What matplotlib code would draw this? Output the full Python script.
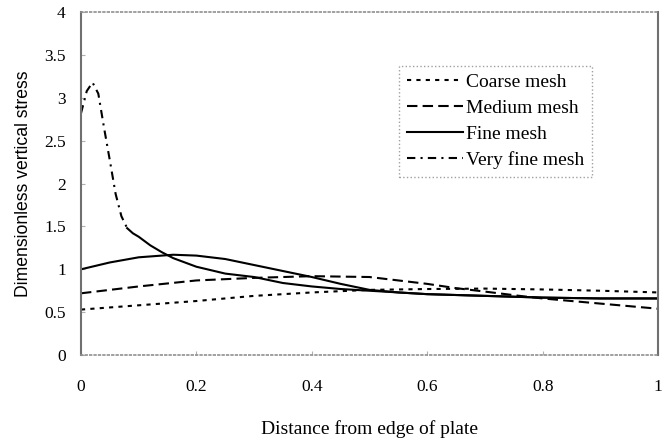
import matplotlib
matplotlib.use("Agg")
import matplotlib.pyplot as plt

# values
coarse_x = [0, 0.1, 0.2, 0.3, 0.4, 0.5, 0.6, 0.7, 0.8, 0.9, 1.0]
coarse_y = [0.53, 0.58, 0.63, 0.69, 0.73, 0.76, 0.77, 0.775, 0.765, 0.75, 0.73]

medium_x = [0, 0.1, 0.2, 0.3, 0.4, 0.5, 0.6, 0.65, 0.7, 0.76, 0.8, 0.9, 1.0]
medium_y = [0.72, 0.80, 0.87, 0.90, 0.92, 0.91, 0.83, 0.78, 0.74, 0.69, 0.66, 0.60, 0.54]

fine_x = [0, 0.05, 0.1, 0.16, 0.2, 0.25, 0.3, 0.35, 0.4, 0.45, 0.5, 0.55, 0.6, 0.7, 0.8, 0.9, 1.0]
fine_y = [1.0, 1.08, 1.14, 1.17, 1.16, 1.12, 1.05, 0.98, 0.91, 0.83, 0.76, 0.73, 0.71, 0.69, 0.67, 0.66, 0.66]

vfine_x = [0, 0.01, 0.02, 0.03, 0.04, 0.05, 0.06, 0.07, 0.08, 0.09, 0.1, 0.12, 0.14, 0.16,
           0.2, 0.25, 0.3, 0.35, 0.4, 0.45, 0.5, 0.6, 0.7, 0.8, 0.9, 1.0]
vfine_y = [2.82, 3.08, 3.18, 3.05, 2.65, 2.27, 1.88, 1.62, 1.48, 1.42, 1.38, 1.28, 1.20, 1.13,
           1.03, 0.95, 0.91, 0.84, 0.80, 0.77, 0.75, 0.71, 0.69, 0.67, 0.66, 0.66]

serif = "Liberation Serif"
fig = plt.figure(figsize=(6.71, 4.41), dpi=100)
ax = fig.add_axes([0.1207, 0.195, 0.86, 0.7773])

k = "black"
lw = 1.5
ax.plot(coarse_x, coarse_y, color=k, lw=lw, linestyle=(0, (2, 2.5)), label="Coarse mesh")
ax.plot(medium_x, medium_y, color=k, lw=lw, linestyle=(0, (5, 2.5)), label="Medium mesh")
ax.plot(fine_x, fine_y, color=k, lw=lw, linestyle="-", label="Fine mesh")
# the spike is drawn dash-dot, the dense tail looks solid in the original
n = 9
ax.plot(vfine_x[:n], vfine_y[:n], color=k, lw=lw, linestyle=(0, (4, 2.5, 1, 2.5)), label="Very fine mesh")
ax.plot(vfine_x[n - 1:], vfine_y[n - 1:], color=k, lw=lw, linestyle="-")

ax.set_xlim(0, 1)
ax.set_ylim(0, 4)
ax.set_xticks([0, 0.2, 0.4, 0.6, 0.8, 1])
ax.set_xticklabels(["0", "0.2", "0.4", "0.6", "0.8", "1"])
ax.set_yticks([0, 0.5, 1, 1.5, 2, 2.5, 3, 3.5, 4])
ax.set_yticklabels(["0", "0.5", "1", "1.5", "2", "2.5", "3", "3.5", "4"])
ax.tick_params(axis="y", direction="in", length=3, color="#b0b0b0", pad=11)
ax.tick_params(axis="x", direction="in", length=3, color="#b0b0b0", pad=17)
for lab in ax.get_xticklabels() + ax.get_yticklabels():
    lab.set_fontfamily(serif)
    lab.set_fontsize(12.5)

for s in ["left", "right"]:
    ax.spines[s].set_color("#707070")
    ax.spines[s].set_linewidth(1.5)
for s in ["top", "bottom"]:
    ax.spines[s].set_color("#909090")
    ax.spines[s].set_linestyle(":")
    ax.spines[s].set_linewidth(1.2)

ax.set_xlabel("Distance from edge of plate", fontfamily=serif, fontsize=14)
ax.xaxis.set_label_coords(0.5, -0.19)
ax.set_ylabel("Dimensionless vertical stress", fontfamily="Liberation Sans", fontsize=12.7)
ax.yaxis.set_label_coords(-0.085, 0.5)

handles, labels = ax.get_legend_handles_labels()
leg = ax.legend(handles[:4], labels[:4], loc="upper left", bbox_to_anchor=(0.551, 0.8435),
                prop={"family": serif, "size": 14}, handlelength=2.9, handletextpad=0.15,
                labelspacing=0.42, borderpad=0.4, borderaxespad=0, fancybox=False, framealpha=1)
fr = leg.get_frame()
fr.set_edgecolor("#a0a0a0")
fr.set_linestyle(":")
fr.set_linewidth(1.0)

fig.savefig("out.png", dpi=100)
